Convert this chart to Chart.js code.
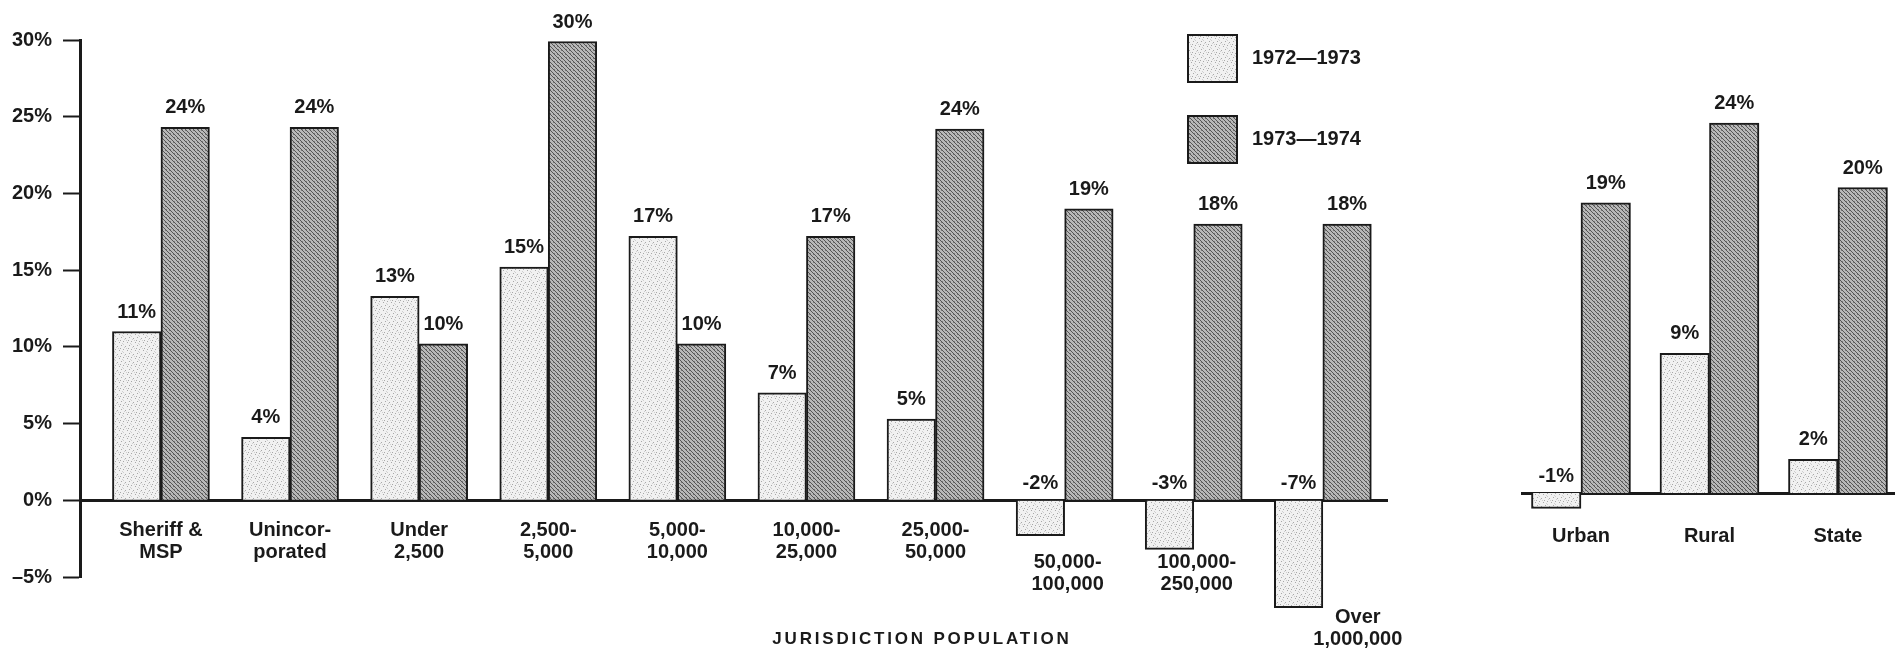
<!DOCTYPE html>
<html>
<head>
<meta charset="utf-8">
<title>Jurisdiction population</title>
<script src="https://cdn.jsdelivr.net/npm/chart.js@4.4.1/dist/chart.umd.min.js"></script>
<style>
  html, body { margin: 0; padding: 0; background: #fff; overflow: hidden; }
  #mainBox { position: absolute; left: 0; top: 0; width: 1440px; height: 653px; }
  #sideBox { position: absolute; left: 1400px; top: 0; width: 501px; height: 653px; }
</style>
</head>
<body>
<div id="mainBox"><canvas id="mainChart"></canvas></div>
<div id="sideBox"><canvas id="sideChart"></canvas></div>
<script>
// values (percent change)
const seriesNames = ["1972—1973", "1973—1974"];

const mainCategories = [
  ["Sheriff &", "MSP"], ["Unincor-", "porated"], ["Under", "2,500"], ["2,500-", "5,000"],
  ["5,000-", "10,000"], ["10,000-", "25,000"], ["25,000-", "50,000"], ["50,000-", "100,000"],
  ["100,000-", "250,000"], ["Over", "1,000,000"],
];
const main7273 = [11.0, 4.1, 13.3, 15.2, 17.2, 7.0, 5.3, -2.3, -3.2, -7.0];
const main7374 = [24.3, 24.3, 10.2, 29.9, 10.2, 17.2, 24.2, 19.0, 18.0, 18.0];

const sideCategories = ["Urban", "Rural", "State"];
const side7273 = [-1.0, 9.1, 2.2];
const side7374 = [18.9, 24.1, 19.9];

const yTicks = [-5, 0, 5, 10, 15, 20, 25, 30];
const axisTitle = "JURISDICTION POPULATION";

const FONT = '"Liberation Sans", Arial, sans-serif';
const INK = "#1a1a1a";

// stippled light fill and hatched dark fill, like the printed bars
const makePattern = (dark) => {
  const c = document.createElement("canvas");
  c.width = 8;
  c.height = 8;
  const g = c.getContext("2d");
  g.fillStyle = dark ? "#b8b8b8" : "#f1f1f1";
  g.fillRect(0, 0, 8, 8);
  if (dark) {
    g.fillStyle = "#555";
    for (let k = 0; k < 8; k++) {
      g.fillRect(k, k, 1, 1);
      g.fillRect((k + 4) % 8, k, 1, 1);
    }
    g.fillStyle = "#7a7a7a";
    [[2, 5], [6, 1], [5, 6], [1, 2]].forEach(([x, y]) => g.fillRect(x, y, 1, 1));
  } else {
    g.fillStyle = "#a8a8a8";
    [[1, 1], [5, 2], [3, 5], [7, 6], [0, 4]].forEach(([x, y]) => g.fillRect(x, y, 1, 1));
    g.fillStyle = "#cfcfcf";
    [[3, 0], [6, 4], [2, 7], [4, 3]].forEach(([x, y]) => g.fillRect(x, y, 1, 1));
  }
  return g.createPattern(c, "repeat");
};
const lightFill = makePattern(false);
const darkFill = makePattern(true);

const toPoints = (arr) => arr.map((v, i) => ({ x: i, y: v }));

const makeDatasets = (a, b, thickness) => [
  {
    label: seriesNames[0],
    data: toPoints(a),
    backgroundColor: lightFill,
    borderColor: INK,
    borderWidth: 2,
    barThickness: thickness,
    clip: false,
  },
  {
    label: seriesNames[1],
    data: toPoints(b),
    backgroundColor: darkFill,
    borderColor: INK,
    borderWidth: 2,
    barThickness: thickness,
    clip: false,
  },
];

// percent labels above each bar (negatives sit just above the zero line)
const valueLabels = {
  id: "valueLabels",
  afterDatasetsDraw(chart) {
    const ctx = chart.ctx;
    const zero = chart.scales.y.getPixelForValue(0);
    ctx.save();
    ctx.font = "bold 20px " + FONT;
    ctx.fillStyle = INK;
    ctx.textAlign = "center";
    ctx.textBaseline = "alphabetic";
    chart.data.datasets.forEach((ds, di) => {
      chart.getDatasetMeta(di).data.forEach((bar, i) => {
        const v = ds.data[i].y;
        const y = v >= 0 ? bar.y - 14 : zero - 11;
        ctx.fillText(Math.round(v) + "%", bar.x, y);
      });
    });
    ctx.restore();
  },
};

// category names hang below the zero line
const makeCatLabels = (labels, drop, shift) => ({
  id: "catLabels",
  afterDraw(chart) {
    const ctx = chart.ctx;
    const xs = chart.scales.x;
    const zero = chart.scales.y.getPixelForValue(0);
    ctx.save();
    ctx.font = "bold 20px " + FONT;
    ctx.fillStyle = INK;
    ctx.textAlign = "center";
    ctx.textBaseline = "top";
    labels.forEach((lab, i) => {
      const cx = xs.getPixelForValue(i) + shift[i];
      [].concat(lab).forEach((t, k) => ctx.fillText(t, cx, zero + drop[i] + k * 22));
    });
    ctx.restore();
  },
});

const legendAndTitle = {
  id: "legendAndTitle",
  afterDraw(chart) {
    const ctx = chart.ctx;
    ctx.save();
    ctx.font = "bold 20px " + FONT;
    ctx.textBaseline = "middle";
    chart.data.datasets.forEach((ds, i) => {
      const top = 35 + i * 81;
      ctx.fillStyle = ds.backgroundColor;
      ctx.fillRect(1188, top, 49, 47);
      ctx.lineWidth = 2;
      ctx.strokeStyle = INK;
      ctx.strokeRect(1188, top, 49, 47);
      ctx.fillStyle = INK;
      ctx.textAlign = "left";
      ctx.fillText(ds.label, 1252, top + 23);
    });
    ctx.font = "bold 17px " + FONT;
    ctx.letterSpacing = "2.8px";
    ctx.textAlign = "center";
    ctx.fillText(axisTitle, 922, 639);
    ctx.restore();
  },
};

Chart.defaults.font.family = FONT;
Chart.defaults.color = INK;

// main panel
new Chart(document.getElementById("mainChart").getContext("2d"), {
  type: "bar",
  data: { datasets: makeDatasets(main7273, main7374, 48.5) },
  options: {
    responsive: true,
    maintainAspectRatio: false,
    animation: false,
    layout: { padding: { left: 0, right: 53, top: 40, bottom: 76 } },
    plugins: { legend: { display: false }, tooltip: { enabled: false } },
    scales: {
      x: {
        type: "linear",
        position: { y: 0 },
        offset: false,
        min: -0.627,
        max: 9.497,
        ticks: { display: false },
        grid: { display: false, offset: false },
        border: { display: true, width: 3, color: INK },
      },
      y: {
        min: yTicks[0],
        max: yTicks[yTicks.length - 1],
        afterBuildTicks: (s) => {
          s.ticks = yTicks.map((v) => ({ value: v }));
        },
        afterFit: (s) => {
          s.width = 80;
        },
        ticks: {
          padding: 11,
          font: { size: 20, weight: "bold" },
          color: INK,
          callback: (v) => (v < 0 ? "–" + Math.abs(v) : v) + "%",
        },
        grid: {
          drawOnChartArea: false,
          drawTicks: true,
          tickLength: 17,
          tickWidth: 2,
          tickColor: INK,
          color: INK,
        },
        border: { display: true, width: 3, color: INK },
      },
    },
  },
  plugins: [
    valueLabels,
    makeCatLabels(mainCategories, [20, 20, 20, 20, 20, 20, 20, 52, 52, 107], [0, 0, 0, 0, 0, 0, 0, 3, 3, 35]),
    legendAndTitle,
  ],
});

// urban / rural / state panel, same vertical scale
new Chart(document.getElementById("sideChart").getContext("2d"), {
  type: "bar",
  data: { datasets: makeDatasets(side7273, side7374, 49.5) },
  options: {
    responsive: true,
    maintainAspectRatio: false,
    animation: false,
    layout: { padding: { left: 122, right: 7, top: 32.5, bottom: 83.25 } },
    plugins: { legend: { display: false }, tooltip: { enabled: false } },
    scales: {
      x: {
        type: "linear",
        position: { y: 0 },
        offset: false,
        min: -0.459,
        max: 2.436,
        ticks: { display: false },
        grid: { display: false, offset: false },
        border: { display: true, width: 3, color: INK },
      },
      y: {
        display: false,
        min: yTicks[0],
        max: yTicks[yTicks.length - 1],
      },
    },
  },
  plugins: [valueLabels, makeCatLabels(sideCategories, [33, 33, 33], [0, 0, 0])],
});
</script>
</body>
</html>
